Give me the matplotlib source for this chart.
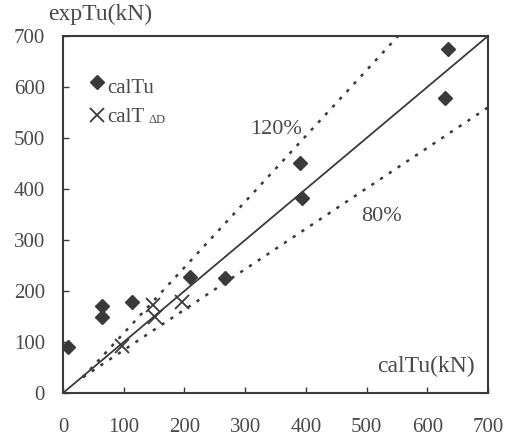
import numpy as np
import matplotlib
matplotlib.use("Agg")
import matplotlib.pyplot as plt

# data
cal_tu = [8, 64, 64, 113, 209, 267, 391, 394, 634, 629]
exp_tu = [90, 171, 149, 178, 227, 225, 451, 382, 674, 578]

cal_td = [97, 149, 152, 196]
exp_td = [92, 172, 149, 178]

# reference lines
line_x = [0, 700]
line_y = [0, 700]
up_x = [33, 552]
up_y = [31, 700]
low_x = [33, 700]
low_y = [31, 560]

ticks = [0, 100, 200, 300, 400, 500, 600, 700]

plt.rcParams['font.family'] = ['Liberation Serif', 'DejaVu Serif']
ink = '#3a3a3a'
txt = '#4a4a4a'

fig = plt.figure(figsize=(5.15, 4.36), dpi=100)
ax = fig.add_axes([0.1223, 0.0986, 0.8253, 0.8188])

ax.plot(line_x, line_y, color=ink, lw=1.3)
ax.plot(up_x, up_y, color=ink, lw=1.8, ls=(0, (1.3, 2.9)))
ax.plot(low_x, low_y, color=ink, lw=1.8, ls=(0, (1.3, 2.9)))

ax.plot(cal_tu, exp_tu, ls='none', marker='D', ms=7.5, color=ink)
ax.plot(cal_td, exp_td, ls='none', marker='x', ms=10, mew=1.3, color=ink)

ax.set_xlim(0, 700)
ax.set_ylim(0, 700)
ax.set_xticks(ticks)
ax.set_yticks(ticks)
ax.tick_params(direction='in', length=4, width=1, color=ink, labelcolor=txt, labelsize=15)
ax.tick_params(axis='x', pad=18)
ax.tick_params(axis='y', pad=13)
for s in ax.spines.values():
    s.set_color(ink)
    s.set_linewidth(1.5)

# legend drawn by hand
ax.plot([0.08], [0.871], transform=ax.transAxes, ls='none', marker='D', ms=7.5, color=ink, clip_on=False)
ax.text(0.104, 0.852, 'calTu', transform=ax.transAxes, fontsize=15, color=txt, va='center')
ax.plot([0.08], [0.779], transform=ax.transAxes, ls='none', marker='x', ms=10, mew=1.3, color=ink, clip_on=False)
t = ax.text(0.104, 0.772, 'calT', transform=ax.transAxes, fontsize=15, color=txt, va='center')
fig.canvas.draw()
bb = t.get_window_extent().transformed(ax.transAxes.inverted())
ax.text(bb.x1 + 0.01, 0.766, 'ΔD', transform=ax.transAxes, fontsize=9, color=txt, va='center')

ax.text(351, 516, '120%', fontsize=16, color=txt, ha='center', va='center')
ax.text(524, 347, '80%', fontsize=16, color=txt, ha='center', va='center')
ax.text(598, 53, 'calTu(kN)', fontsize=17, color=txt, ha='center', va='center')
fig.text(0.194, 0.966, 'expTu(kN)', fontsize=17, color=txt, ha='center', va='center')

plt.savefig('out.png', dpi=100)
